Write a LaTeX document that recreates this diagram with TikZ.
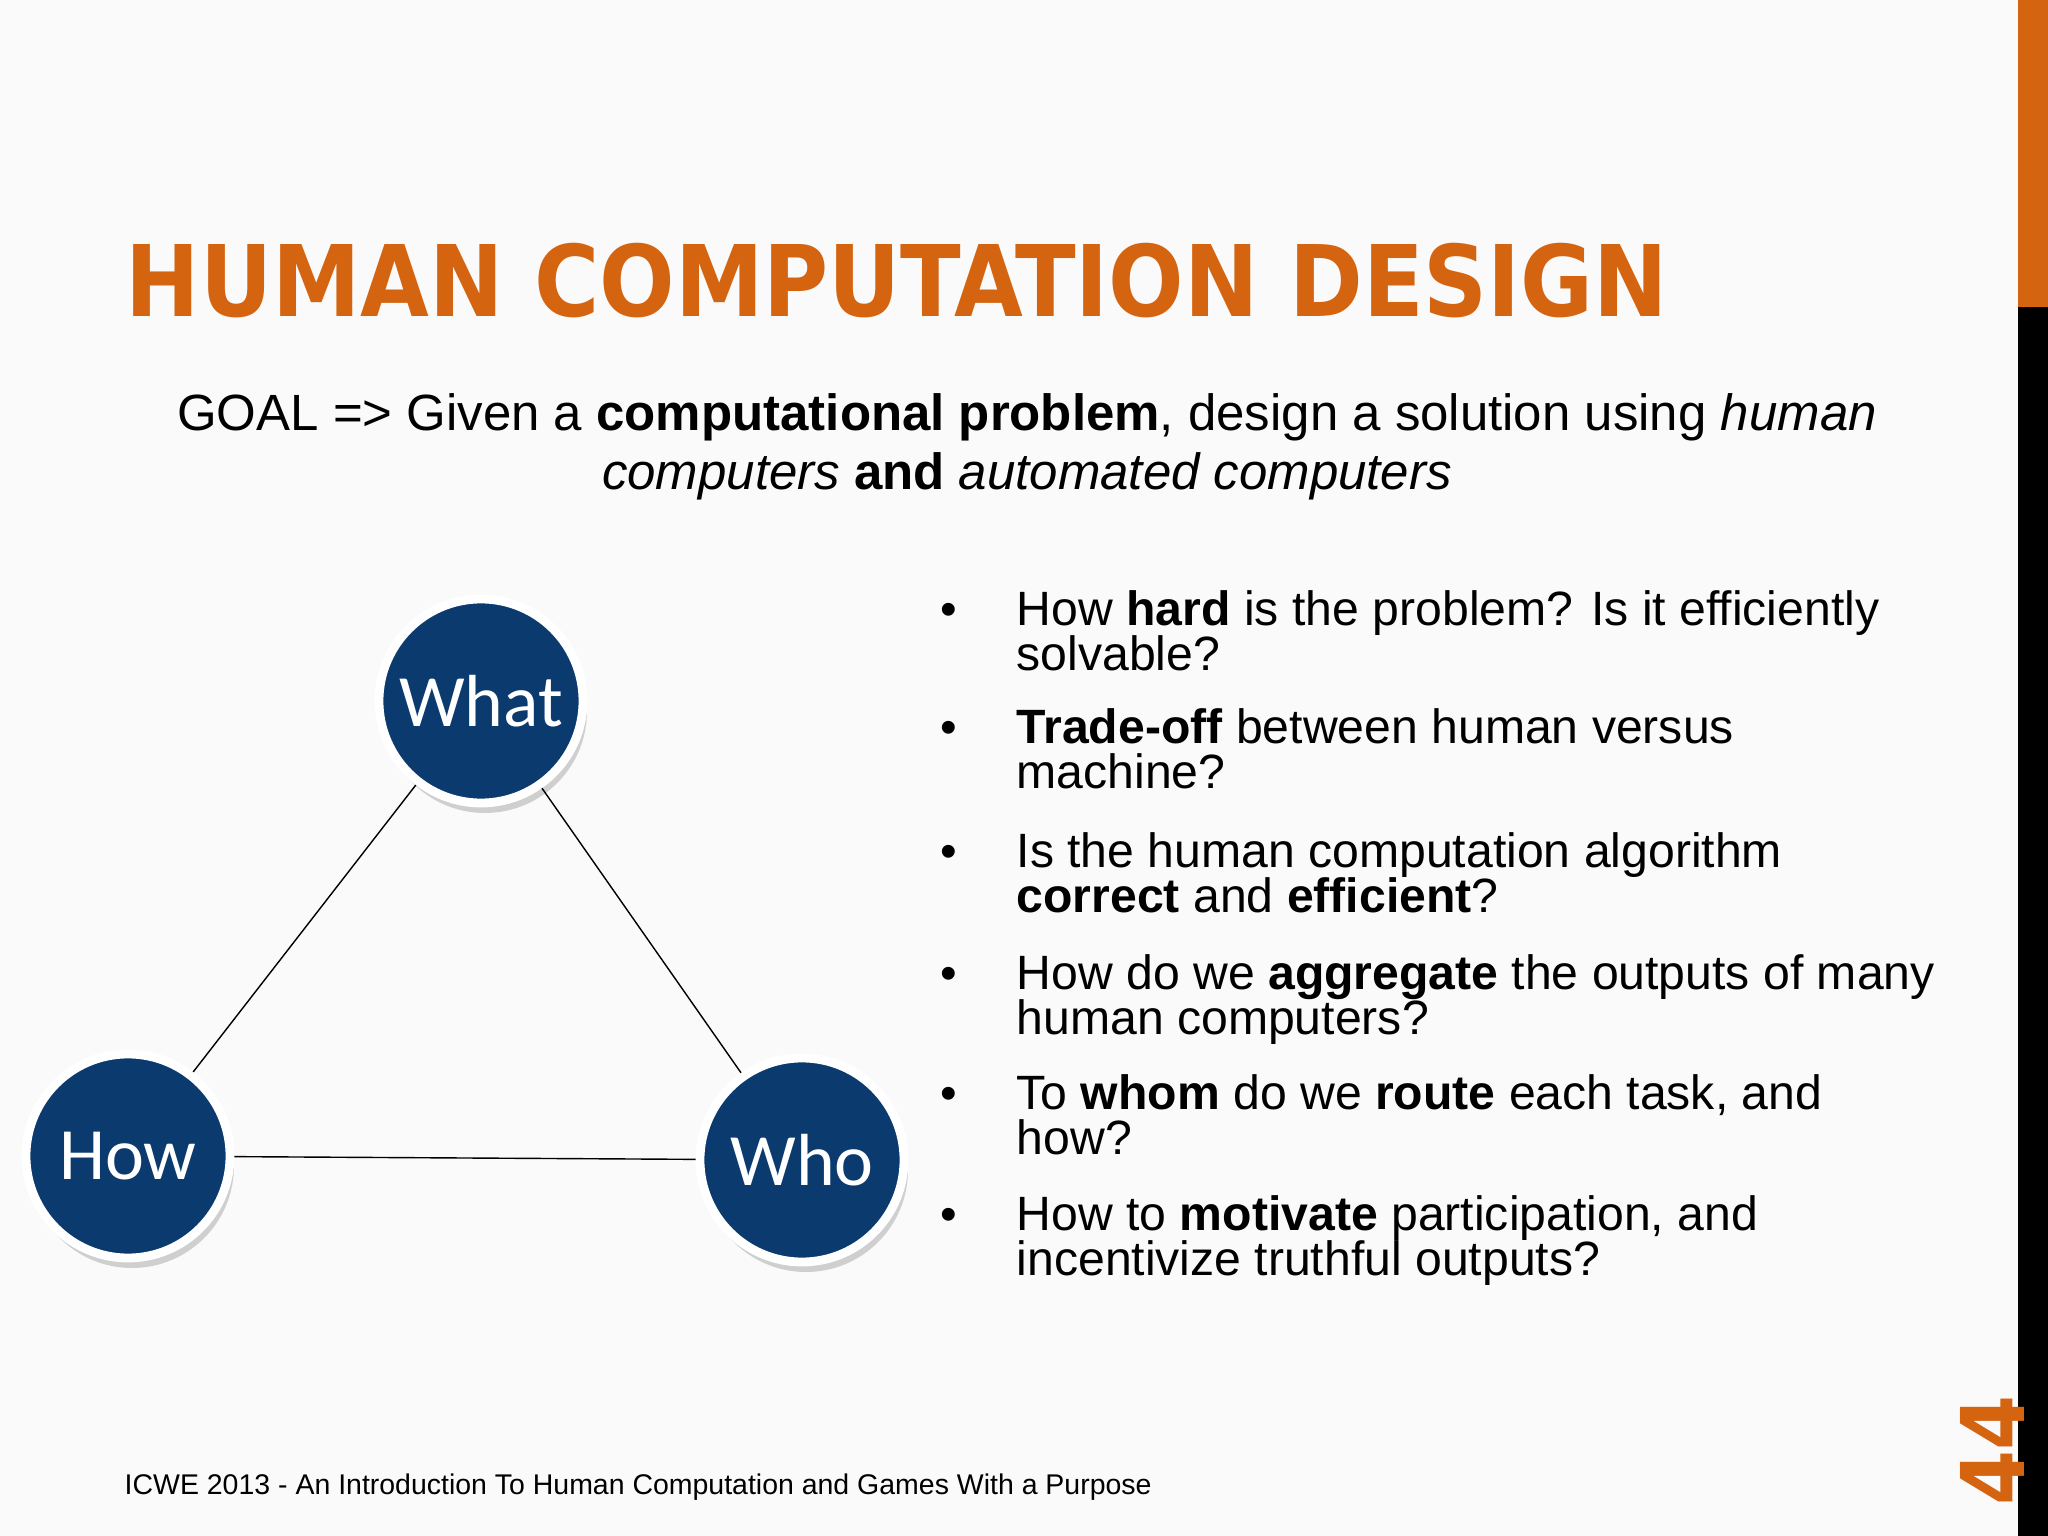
\documentclass[tikz,border=0pt]{standalone}
\usepackage{fontspec}
\setmainfont{Liberation Sans}
\newfontfamily\circfont{Carlito}
\newfontfamily\titlefont{DejaVu Sans Condensed}
\usetikzlibrary{shadows}
\definecolor{orng}{HTML}{D46410}
\definecolor{navy}{HTML}{0B3A6E}
\tikzset{
  circ/.style={circle,fill=navy,draw=white,line width=2.5pt,minimum size=2.04cm,inner sep=0,text=white,font=\circfont\fontsize{21}{24}\selectfont,drop shadow={shadow xshift=0.4mm,shadow yshift=-1mm,opacity=0.35}},
  btxt/.style={anchor=base west,font=\fontsize{13.7}{16}\selectfont,inner sep=0},
  bul/.style={anchor=base,font=\fontsize{13.5}{16}\selectfont,inner sep=0}
}
\begin{document}
\begin{tikzpicture}[x=1cm,y=1cm]
\fill[white!98!black] (0,0) rectangle (20.48,-15.36);
\useasboundingbox (0,0) rectangle (20.48,-15.36);
\fill[orng] (20.18,0) rectangle (20.48,-3.07);
\fill[black] (20.18,-3.07) rectangle (20.48,-15.36);
\node[anchor=west,inner sep=0,text=orng,font=\titlefont\bfseries\fontsize{28.1}{34}\selectfont] (title) at (1.25,-2.81) {HUMAN COMPUTATION DESIGN};
\node[anchor=base,inner sep=0,font=\fontsize{14.5}{17}\selectfont] (g1) at (10.27,-4.31) {GOAL => Given a \textbf{computational problem}, design a solution using \textit{human}};
\node[anchor=base,inner sep=0,font=\fontsize{14.5}{17}\selectfont] (g2) at (10.27,-4.90) {\textit{computers} \textbf{and} \textit{automated computers}};
\node[circ] (what) at (4.81,-7.01) {What};
\node[circ] (how) at (1.28,-11.56) {How};
\node[circ] (who) at (8.02,-11.60) {Who};
\draw[thin] (what) -- (how);
\draw[thin] (what) -- (who);
\draw[thin] (how) -- (who);
\foreach \y/\a/\b [count=\i] in {
 6.26/{How \textbf{hard} is the problem? Is it efficiently}/{solvable?},
 7.44/{\textbf{Trade-off} between human versus}/{machine?},
 8.67/{Is the human computation algorithm}/{\textbf{correct} and \textbf{efficient}?},
 9.90/{How do we \textbf{aggregate} the outputs of many}/{human computers?},
 11.09/{To \textbf{whom} do we \textbf{route} each task, and}/{how?},
 12.30/{How to \textbf{motivate} participation, and}/{incentivize truthful outputs?}}{
 \node[bul] (d\i) at (9.49,-\y) {\textbullet};
 \node[btxt] (a\i) at (10.16,-\y) {\a};
 \node[btxt] (b\i) at (10.16,-\y-0.45) {\b};
}
\node[anchor=base west,inner sep=0,font=\fontsize{8.1}{9}\selectfont] (foot) at (1.24,-14.94) {ICWE 2013 - An Introduction To Human Computation and Games With a Purpose};
\node[rotate=90,inner sep=0,text=orng,font=\titlefont\bfseries\fontsize{25}{28}\selectfont] (num) at (19.92,-14.50) {44};
\end{tikzpicture}
\end{document}
